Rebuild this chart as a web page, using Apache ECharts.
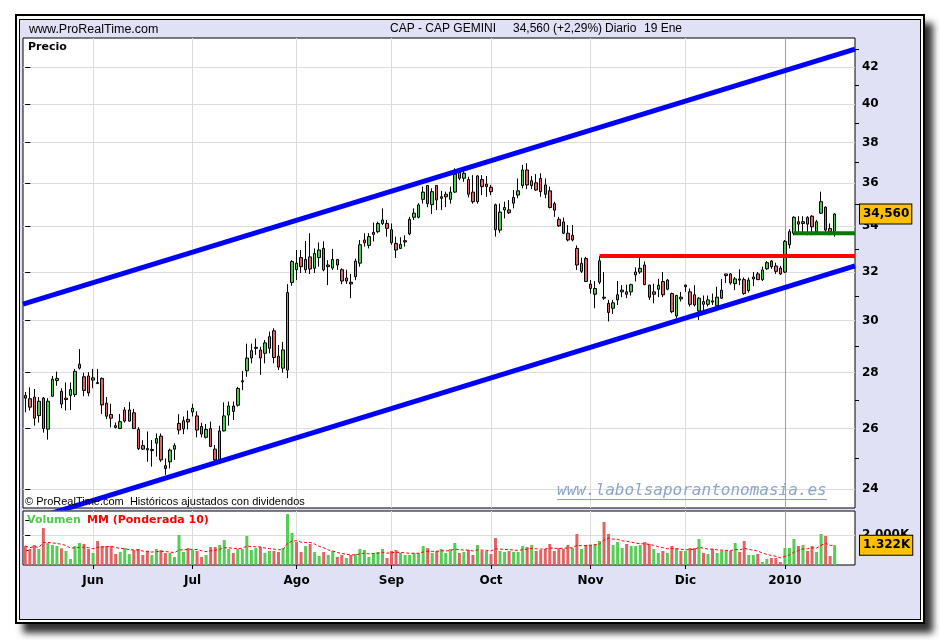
<!DOCTYPE html>
<html>
<head>
<meta charset="utf-8">
<script src="https://cdn.jsdelivr.net/npm/echarts@6/dist/echarts.min.js"></script>
<style>
html,body{margin:0;padding:0;background:#fff;width:940px;height:640px;overflow:hidden;}
#outer{position:absolute;left:15px;top:14px;width:910px;height:610px;box-sizing:border-box;border:2px solid #000;background:#fff;box-shadow:8px 9px 7px #333;}
#inner{position:absolute;left:19px;top:19px;width:902px;height:601px;box-sizing:border-box;border:1px solid #000;background:#e1e1f5;}
#chart{position:absolute;left:0;top:0;width:940px;height:640px;}
</style>
</head>
<body>
<div id="outer"></div><div id="inner"></div><div id="chart"></div>
<script>
// ---- trading days (categories) ----
const months = ['2009-05','2009-06','2009-07','2009-08','2009-09','2009-10','2009-11','2009-12','2010-01'];
const monthDays = [
  [11,12,13,14,15,18,19,20,21,22,25,26,27,28,29],
  [1,2,3,4,5,8,9,10,11,12,15,16,17,18,19,22,23,24,25,26,29,30],
  [1,2,3,6,7,8,9,10,13,14,15,16,17,20,21,22,23,24,27,28,29,30,31],
  [3,4,5,6,7,10,11,12,13,14,17,18,19,20,21,24,25,26,27,28,31],
  [1,2,3,4,7,8,9,10,11,14,15,16,17,18,21,22,23,24,25,28,29,30],
  [1,2,5,6,7,8,9,12,13,14,15,16,19,20,21,22,23,26,27,28,29,30],
  [2,3,4,5,6,9,10,11,12,13,16,17,18,19,20,23,24,25,26,27,30],
  [1,2,3,4,7,8,9,10,11,14,15,16,17,18,21,22,23,24,28,29,30,31],
  [4,5,6,7,8,11,12,13,14,15,18,19]
];
const monthLabels = ['May','Jun','Jul','Ago','Sep','Oct','Nov','Dic','2010'];
const emptySlotsRight = 4;

// ---- price candles: [open, close, low, high] ----
const ohlc = [
[27.17,27.07,26.57,27.29],[27.05,26.75,26.63,27.46],[27.11,26.36,26.10,27.40],[26.45,26.96,26.21,27.11],[27.07,26.00,25.86,27.11],
[25.98,26.96,25.62,27.07],[27.14,27.76,27.11,27.88],[27.71,27.79,27.52,28.04],[27.32,26.86,26.71,27.43],[27.07,27.02,26.63,27.64],
[27.17,27.38,26.65,27.64],[27.20,28.05,27.11,28.14],[28.17,28.32,28.12,28.89],[27.85,27.35,27.14,28.00],[27.88,27.26,27.14,28.02],
[27.73,27.81,27.43,28.14],[27.64,27.60,27.58,28.14],[27.79,26.83,26.51,27.82],[26.89,26.43,26.33,27.11],[26.49,26.36,26.04,26.87],
[26.04,26.10,26.00,26.21],[26.00,26.24,26.00,26.51],[26.65,26.26,26.21,26.75],[26.26,26.65,26.24,26.93],[26.55,26.00,26.00,26.69],
[25.97,25.32,25.27,26.05],[25.42,25.30,25.27,25.60],[25.32,25.28,24.88,25.90],[25.25,25.29,24.72,25.61],[25.50,25.66,25.05,25.83],
[25.74,24.94,24.88,25.83],[24.75,24.66,24.45,24.99],[24.88,25.27,24.66,25.32],[25.30,25.42,24.94,25.50],[26.18,25.95,25.80,26.50],
[25.99,26.27,25.81,26.42],[26.32,26.23,25.97,26.63],[26.58,26.71,26.42,26.87],[26.44,25.95,25.70,26.60],[26.07,25.81,25.70,26.20],
[25.70,25.97,25.66,26.16],[26.00,25.39,25.37,26.24],[25.30,24.94,24.77,25.44],[24.94,25.92,24.85,26.10],[25.92,26.44,25.90,26.92],
[26.47,26.79,26.10,26.95],[26.79,26.60,26.30,26.95],[26.82,27.42,26.77,27.48],[27.70,27.66,27.36,28.07],[28.07,28.55,27.85,29.10],
[28.55,28.83,28.35,29.10],[28.92,28.96,28.67,29.30],[28.86,28.55,27.92,28.98],[28.73,29.13,28.35,29.24],[28.92,29.37,28.73,29.57],
[29.60,28.57,28.35,29.70],[28.62,28.21,28.10,29.05],[28.17,28.86,28.00,29.17],[28.10,31.14,27.80,31.49],[31.56,32.45,31.42,32.51],
[32.10,32.38,31.66,32.95],[32.62,32.23,31.96,32.95],[32.10,32.54,31.96,33.35],[32.65,32.13,31.92,33.69],[32.16,32.80,31.96,33.02],
[32.62,32.95,32.23,33.28],[33.02,32.09,32.03,33.33],[32.30,32.23,31.45,32.51],[32.17,32.54,32.09,33.00],[32.54,32.30,32.09,32.54],
[32.10,31.62,31.49,32.16],[31.75,31.62,31.50,32.10],[31.57,31.50,30.91,31.92],[31.80,32.47,31.66,32.58],[32.38,33.18,32.23,33.39],
[33.39,33.27,33.10,33.69],[33.15,33.54,33.02,33.69],[33.73,33.64,33.33,34.17],[33.76,34.13,33.69,34.21],[34.13,34.29,34.06,34.82],
[34.13,33.91,33.54,34.29],[33.85,33.27,33.18,34.13],[33.24,32.95,32.60,33.54],[33.02,33.20,32.99,33.51],[33.36,33.30,33.10,33.60],
[33.66,34.32,33.60,34.43],[34.41,34.60,34.29,34.82],[34.41,34.98,34.36,35.06],[35.24,35.58,35.04,35.84],[35.89,35.04,34.88,35.92],
[34.99,35.60,34.56,35.76],[35.89,35.21,34.74,35.92],[35.36,35.29,34.74,35.64],[35.48,35.36,34.88,35.60],[35.24,35.58,35.04,35.84],
[35.58,36.44,35.54,36.72],[36.55,36.24,36.15,36.72],[36.24,36.48,36.07,36.64],[36.18,35.48,35.33,36.31],[35.58,35.13,35.04,36.39],
[35.13,36.35,35.04,36.39],[36.18,35.84,35.44,36.39],[35.96,35.84,35.36,36.35],[35.81,35.60,35.44,35.92],[34.99,33.85,33.54,35.04],
[33.83,34.65,33.71,35.04],[34.75,34.86,34.36,35.13],[34.75,34.62,34.56,35.21],[35.06,35.33,34.82,35.68],[35.44,35.64,35.29,36.23],
[35.89,36.64,35.76,36.89],[36.64,35.92,35.72,36.97],[35.89,36.12,35.72,36.35],[36.02,35.68,35.64,36.44],[36.23,35.60,35.36,36.48],
[35.92,35.48,35.29,36.23],[35.64,34.86,34.82,35.84],[35.04,34.74,34.43,35.13],[34.32,34.02,33.98,34.43],[34.20,33.69,33.66,34.40],
[33.69,33.39,33.33,34.06],[33.60,33.39,33.33,34.06],[33.02,32.30,32.09,33.15],[32.03,32.37,31.96,32.62],[32.58,31.60,31.60,32.65],
[31.49,31.31,31.10,31.66],[31.07,31.31,30.50,31.62],[31.57,32.48,31.49,32.68],[30.95,30.91,30.84,32.00],[30.70,30.33,29.97,30.84],
[30.50,30.72,30.27,30.84],[30.84,31.05,30.63,31.62],[31.17,31.24,30.95,31.45],[31.17,31.07,30.91,31.47],[31.17,31.47,31.02,31.51],
[31.88,32.00,31.60,32.20],[32.00,32.16,31.92,32.65],[32.30,31.47,31.45,32.45],[31.45,30.95,30.84,31.47],[31.17,31.07,30.70,31.51],
[31.28,31.45,30.95,31.71],[31.60,31.05,30.95,32.00],[31.28,31.66,31.24,31.71],[31.10,30.36,30.30,31.14],[30.19,31.02,30.10,31.05],
[30.95,30.88,30.77,31.17],[31.45,31.38,31.17,31.47],[31.17,30.66,30.57,31.31],[31.05,30.63,30.57,31.45],[30.39,30.91,30.03,30.95],
[30.66,30.77,30.36,31.02],[30.66,30.84,30.57,31.02],[30.80,30.75,30.63,31.10],[30.60,30.95,30.57,31.38],[30.91,31.24,30.88,31.71],
[31.92,31.85,31.54,31.92],[31.92,31.54,31.47,31.96],[31.51,31.71,31.24,31.79],[31.71,31.66,31.45,32.12],[31.68,31.10,31.05,31.77],
[31.22,31.66,31.14,31.77],[31.71,31.79,31.41,32.00],[31.92,31.68,31.66,32.00],[31.68,32.09,31.62,32.23],[32.14,32.40,32.09,32.47],
[32.47,32.23,32.14,32.51],[32.26,32.03,31.92,32.40],[32.17,31.92,31.88,32.26],[32.00,33.33,31.96,33.39],[33.18,33.76,33.02,33.87],
[33.69,34.41,33.60,34.46],[34.21,34.10,33.69,34.46],[34.13,34.21,33.69,34.46],[34.41,34.10,33.60,34.46],[34.46,33.98,33.60,34.51],
[33.76,34.21,33.69,34.29],[34.60,35.13,34.56,35.60],[34.88,33.83,33.69,34.91],[33.90,33.76,33.60,34.13],[33.76,34.56,33.54,34.60]
];

// ---- volume (thousands of shares) ----
const volumeK = [
1266,1066,1333,1066,2466,1466,1333,1266,1110,933,
400,1266,1466,1400,1066,800,1600,1266,1266,1266,
733,866,1133,733,1000,1066,666,933,666,1066,
1000,800,800,533,2000,866,1133,1000,933,533,
666,1200,1200,1333,1666,1066,800,1066,1066,1933,
1000,1133,1200,800,933,933,866,1133,3400,2133,
1533,866,1266,1400,866,600,866,666,933,533,
666,466,666,733,1066,1000,533,800,866,1066,
466,933,1000,800,666,666,800,800,1266,1133,
800,933,1066,800,1066,1466,800,866,1000,
666,1333,933,933,733,1800,933,866,933,866,866,
1266,1200,1333,933,1000,1066,1400,933,1133,1066,
1333,1133,2066,1066,1333,1333,1400,1600,2866,2066,
1333,1533,1133,1400,1266,1266,1333,1533,1400,1066,
800,933,800,1266,1133,933,933,1133,1133,1733,
800,733,1066,800,933,933,933,1466,866,1600,
666,666,733,200,400,466,466,200,1133,1133,
1733,1266,1333,933,1266,866,2066,1933,600,1322
];
const wmaPeriod = 10;

// ---- axis ticks ----
const priceTicks = [24,26,28,30,32,34,36,38,40,42];
const priceMinorTicks = [25,27,29,31,33,35,37,39,41,43];
const priceMin = 23.4, priceMax = 43.65;
const volumeTicks = [1000,2000,3000];
const volumeLabelTicks = [2000];
const volumeMax = 3600;

// ---- drawn trend lines: [slot position, price] ----
const upperChannel = [[-0.5,30.67],[183.5,43.01]];
const lowerChannel = [[-0.5,22.97],[183.5,32.26]];
const resistanceLine = [[127,32.69],[183.5,32.69]];
const supportLine = [[170,33.69],[183.5,33.69]];

// ---------------- build ----------------
const cats = [];
const monthStarts = [];
months.forEach((m, k) => {
  monthDays[k].forEach((d, j) => {
    if (j === 0 && k > 0) monthStarts.push(cats.length);
    cats.push(m + '-' + String(d).padStart(2,'0'));
  });
});
for (let i = 0; i < emptySlotsRight; i++) cats.push('pad' + i);
const slotMax = cats.length - 0.5;

const closes = ohlc.map(c => c[1]);
const volData = volumeK.map((v, i) => {
  const up = i === 0 ? ohlc[i][1] >= ohlc[i][0] : closes[i] >= closes[i-1];
  return { value: v, itemStyle: { color: up ? '#55cc55' : '#e06464' } };
});
const wma = volumeK.map((v, i) => {
  let num = 0, den = 0;
  for (let k = 0; k < wmaPeriod; k++) {
    if (i - k < 0) break;
    const w = wmaPeriod - k;
    num += w * volumeK[i - k]; den += w;
  }
  return +(num / den).toFixed(1);
});

const lastClose = closes[closes.length - 1];
const lastVol = volumeK[volumeK.length - 1];
const fmtK = v => Math.floor(v / 1000) + '.' + String(Math.round(v % 1000)).padStart(3, '0') + 'K';
const monthName = v => { const k = monthStarts.indexOf(Math.round(v)); return k >= 0 ? monthLabels[k + 1] : ''; };

const F = 'DejaVu Sans';
const axisLbl = { color: '#000', fontWeight: 'bold', fontFamily: F, fontSize: 12 };
const splitColors = monthStarts.map((s, k) => k === monthStarts.length - 1 ? '#a0a0a0' : '#dcdcdc');

const chart = echarts.init(document.getElementById('chart'), null, { renderer: 'canvas' });
chart.setOption({
  animation: false,
  backgroundColor: 'transparent',
  textStyle: { fontFamily: F },
  grid: [
    { left: 23, top: 38, width: 832, height: 470, show: true, backgroundColor: '#fff', borderColor: '#000', borderWidth: 1 },
    { left: 23, top: 511, width: 832, height: 54, show: true, backgroundColor: '#fff', borderColor: '#000', borderWidth: 1 }
  ],
  xAxis: [
    { type: 'category', gridIndex: 0, data: cats, boundaryGap: true, show: false },
    { type: 'category', gridIndex: 1, data: cats, boundaryGap: true, show: false },
    { type: 'value', gridIndex: 0, min: -0.5, max: slotMax, position: 'bottom',
      axisLine: { show: false, onZero: false }, axisTick: { show: false, customValues: monthStarts },
      axisLabel: { show: false }, splitLine: { show: true, lineStyle: { color: splitColors, width: 1 } } },
    { type: 'value', gridIndex: 1, min: -0.5, max: slotMax, position: 'bottom',
      axisLine: { show: false, onZero: false },
      axisTick: { show: true, inside: false, length: 4, customValues: monthStarts, lineStyle: { color: '#000' } },
      axisLabel: Object.assign({ customValues: monthStarts, margin: 10, formatter: monthName }, axisLbl),
      splitLine: { show: true, lineStyle: { color: splitColors, width: 1 } } }
  ],
  yAxis: [
    { type: 'log', gridIndex: 0, min: priceMin, max: priceMax, position: 'right',
      axisLine: { show: false },
      axisTick: { show: true, inside: false, length: 5, customValues: priceTicks, lineStyle: { color: '#000' } },
      axisLabel: Object.assign({ customValues: priceTicks, margin: 7, formatter: v => String(Math.round(v)) }, axisLbl),
      splitLine: { show: true, lineStyle: { color: '#dcdcdc', width: 1 } } },
    { type: 'log', gridIndex: 0, min: priceMin, max: priceMax, position: 'right',
      axisLine: { show: false },
      axisTick: { show: true, inside: false, length: 4, customValues: priceMinorTicks, lineStyle: { color: '#000' } },
      axisLabel: { show: false }, splitLine: { show: false } },
    { type: 'value', gridIndex: 1, min: 0, max: volumeMax, position: 'right',
      axisLine: { show: false },
      axisTick: { show: true, inside: false, length: 5, customValues: volumeTicks, lineStyle: { color: '#000' } },
      axisLabel: Object.assign({ customValues: volumeLabelTicks, margin: 7, formatter: fmtK }, axisLbl),
      splitLine: { show: false } },
    { type: 'value', gridIndex: 1, min: 0, max: volumeMax, position: 'right',
      axisLine: { show: false }, axisTick: { show: false, customValues: volumeLabelTicks },
      axisLabel: { show: false }, splitLine: { show: true, lineStyle: { color: '#dcdcdc' } } }
  ],
  series: [
    { type: 'candlestick', xAxisIndex: 0, yAxisIndex: 0, data: ohlc, barWidth: 3,
      itemStyle: { color: '#4ccc4c', color0: '#e06464', borderColor: '#000', borderColor0: '#000', borderColorDoji: '#000', borderWidth: 1 },
      markLine: { silent: true, symbol: ['none','none'], animation: false,
        lineStyle: { color: 'rgba(0,0,0,0)', width: 0 },
        label: { show: true, position: 'end', distance: 5, formatter: () => lastClose.toFixed(3).replace('.', ','),
          backgroundColor: '#ffc000', borderColor: '#000', borderWidth: 1, padding: [4,2,3,3],
          color: '#000', fontWeight: 'bold', fontSize: 12, fontFamily: F },
        data: [{ yAxis: lastClose }] } },
    { type: 'line', xAxisIndex: 2, yAxisIndex: 0, data: upperChannel, symbol: 'none', lineStyle: { color: '#0000ff', width: 5 }, z: 3 },
    { type: 'line', xAxisIndex: 2, yAxisIndex: 0, data: lowerChannel, symbol: 'none', lineStyle: { color: '#0000ff', width: 5 }, z: 3 },
    { type: 'line', xAxisIndex: 2, yAxisIndex: 0, data: resistanceLine, symbol: 'none', lineStyle: { color: '#ff0000', width: 4 }, z: 3 },
    { type: 'line', xAxisIndex: 2, yAxisIndex: 0, data: supportLine, symbol: 'none', lineStyle: { color: '#007a00', width: 4 }, z: 3 },
    { type: 'bar', xAxisIndex: 1, yAxisIndex: 2, data: volData, barWidth: 3,
      markLine: { silent: true, symbol: ['none','none'], animation: false,
        lineStyle: { color: 'rgba(0,0,0,0)', width: 0 },
        label: { show: true, position: 'end', distance: 5, formatter: () => fmtK(lastVol),
          backgroundColor: '#ffc000', borderColor: '#000', borderWidth: 1, padding: [4,2,3,3],
          color: '#000', fontWeight: 'bold', fontSize: 12, fontFamily: F },
        data: [{ yAxis: lastVol }] } },
    { type: 'line', xAxisIndex: 1, yAxisIndex: 2, data: wma, symbol: 'none',
      lineStyle: { color: '#ff0000', width: 1, type: [3,2] }, z: 3 }
  ],
  graphic: [
    { type: 'text', z: 100, left: 29, top: 23, style: { text: 'www.ProRealTime.com', font: '12.5px "Liberation Sans"', fill: '#000' } },
    { type: 'text', z: 100, left: 390, top: 23, style: { text: 'CAP - CAP GEMINI', font: '12px "Liberation Sans"', fill: '#000' } },
    { type: 'text', z: 100, left: 513, top: 23, style: { text: '34,560 (+2,29%)', font: '12px "Liberation Sans"', fill: '#000' } },
    { type: 'text', z: 100, left: 605, top: 23, style: { text: 'Diario', font: '12px "Liberation Sans"', fill: '#000' } },
    { type: 'text', z: 100, left: 644, top: 23, style: { text: '19 Ene', font: '12px "Liberation Sans"', fill: '#000' } },
    { type: 'text', z: 100, left: 28, top: 42, style: { text: 'Precio', font: 'bold 11px "DejaVu Sans"', fill: '#000' } },
    { type: 'text', z: 100, left: 25, top: 496, style: { text: '© ProRealTime.com  Históricos ajustados con dividendos', font: '11px "Liberation Sans"', fill: '#000' } },
    { type: 'text', z: 100, left: 557, top: 483, style: { text: 'www.labolsaporantonomasia.es', font: 'italic 16px "DejaVu Sans Mono"', fill: '#8ba5c9' } },
    { type: 'line', z: 100, shape: { x1: 557, y1: 499.5, x2: 827, y2: 499.5 }, style: { stroke: '#8ba5c9', lineWidth: 1 } },
    { type: 'text', z: 100, left: 27, top: 515, style: { text: 'Volumen', font: 'bold 11px "DejaVu Sans"', fill: '#4ccc4c' } },
    { type: 'text', z: 100, left: 87, top: 515, style: { text: 'MM (Ponderada 10)', font: 'bold 11px "DejaVu Sans"', fill: '#ff0000' } }
  ]
});
</script>
</body>
</html>
